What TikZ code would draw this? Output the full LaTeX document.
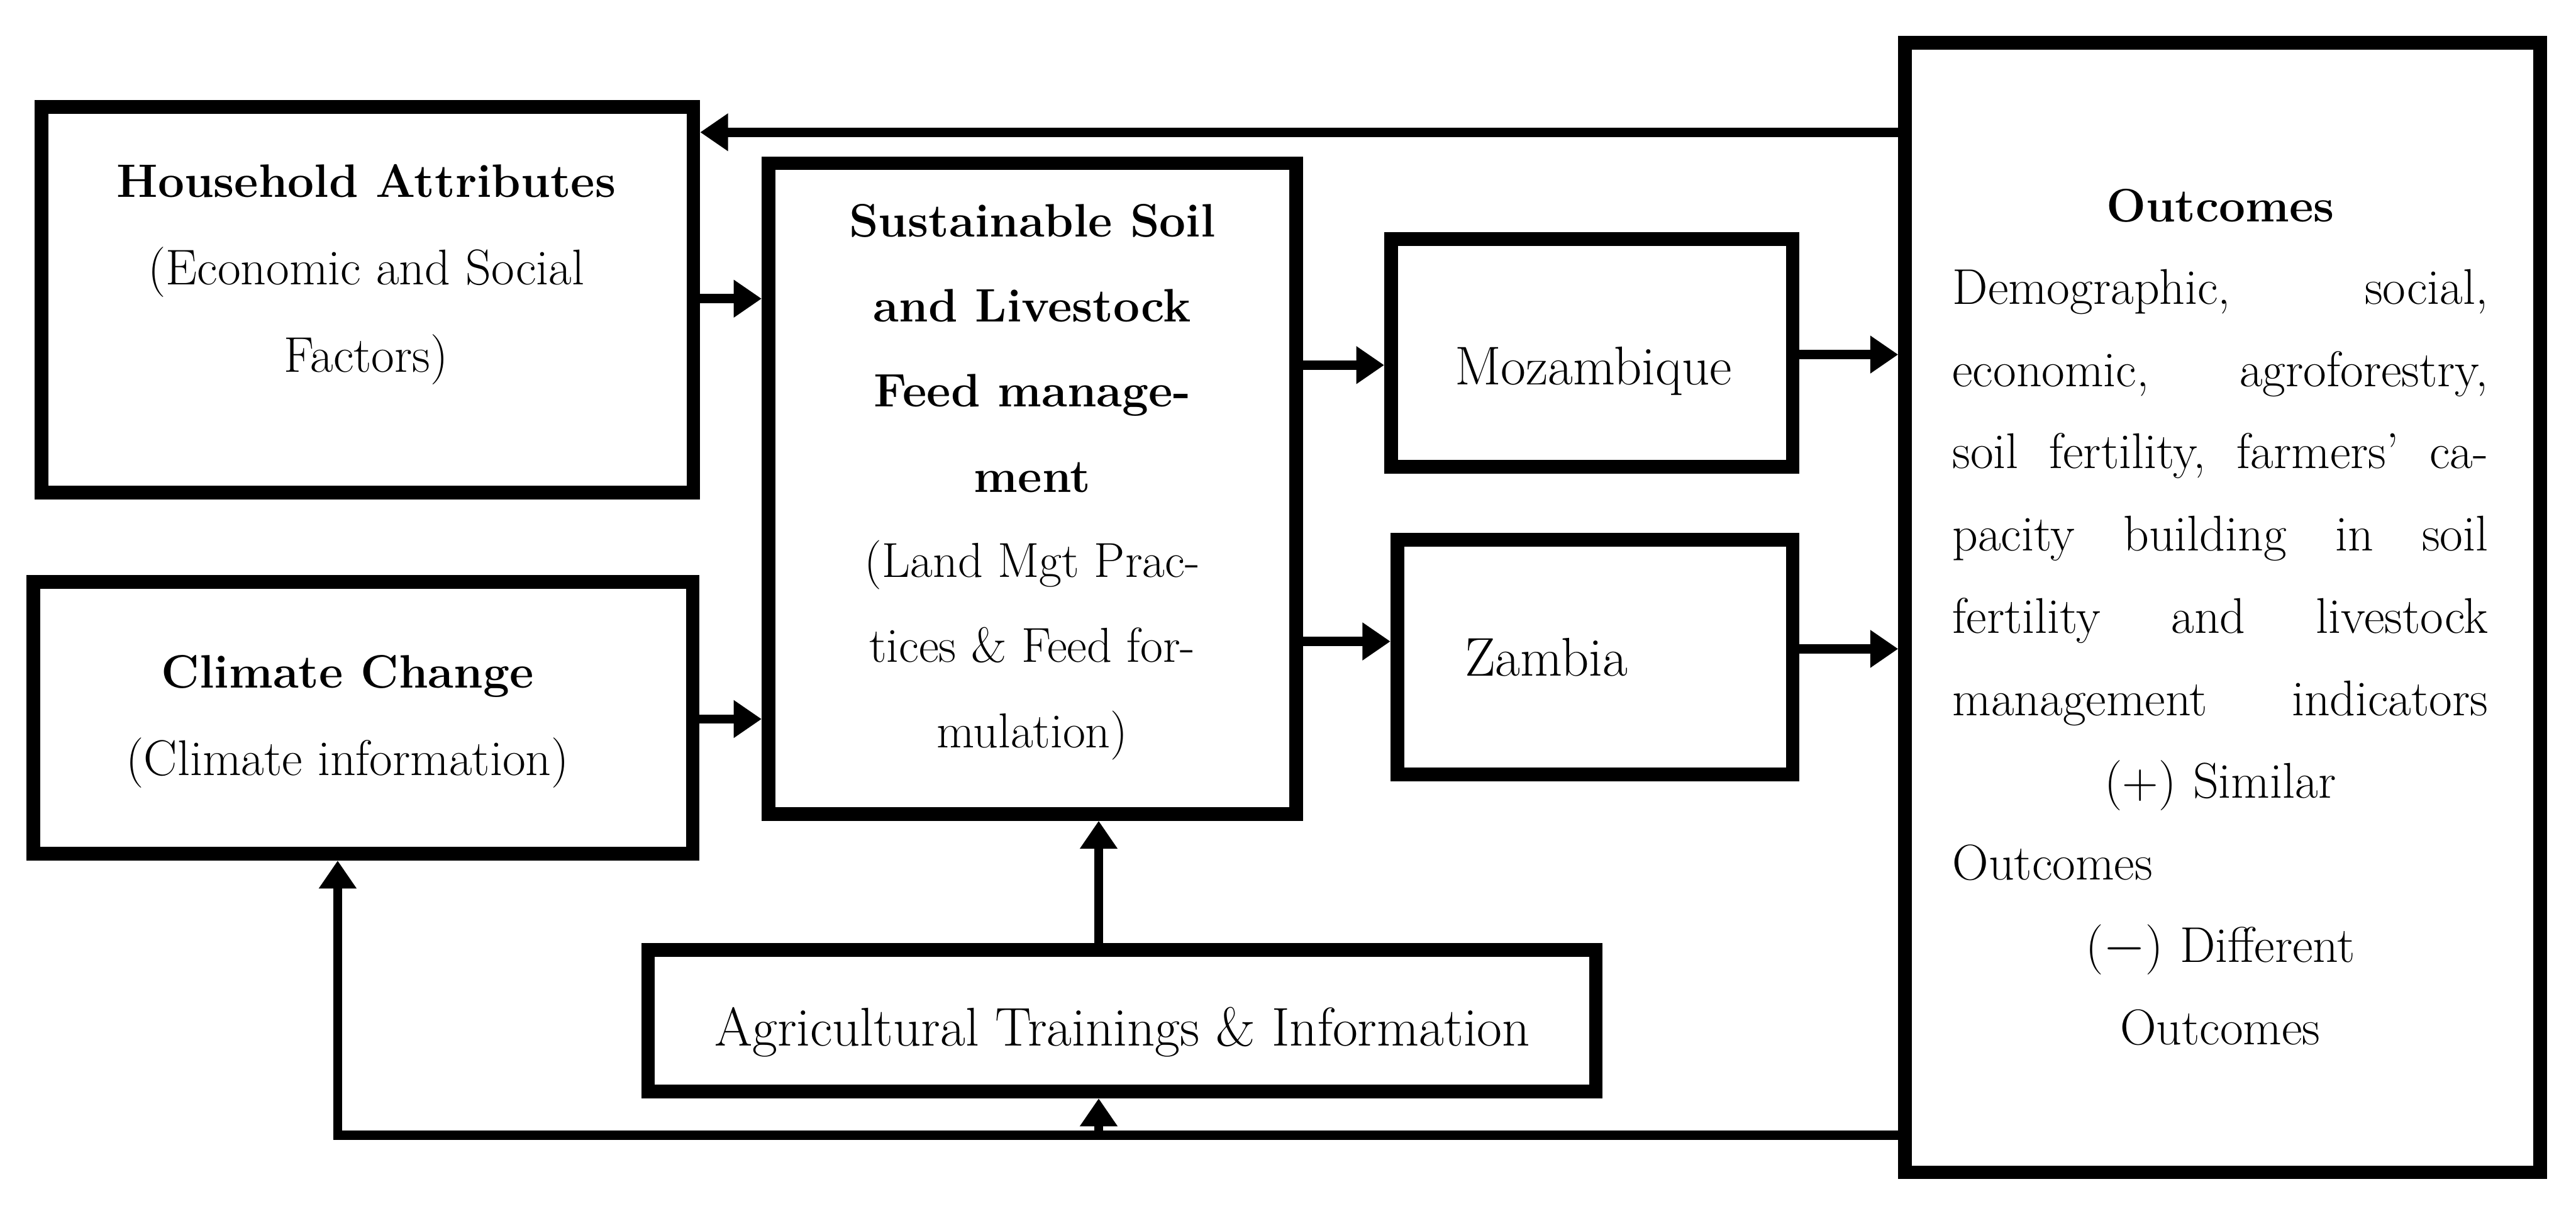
\documentclass[tikz,border=0pt]{standalone}
\usepackage{fontspec}
\usetikzlibrary{arrows.meta}
\newcommand\mybf[1]{{\fontsize{21.5}{40}\selectfont\bfseries #1}}
\newcommand\fullline[1]{\makebox[\linewidth][l]{#1}}
\begin{document}
\begin{tikzpicture}[
  box/.style={draw, line width=0.22cm, inner sep=0pt},
  conn/.style={line width=0.15cm},
  arr/.style={conn, -{Triangle[length=0.45cm,width=0.58cm]}},
  txt/.style={align=center, font=\fontsize{23}{40}\selectfont, inner sep=0pt},
  big/.style={txt, font=\fontsize{25}{40}\selectfont}
]
\useasboundingbox (0,0) rectangle (41.5,-19.42);
% boxes
\node[box, minimum width=10.50cm, minimum height=6.21cm] (hh) at (5.92,-4.825) {};
\node[box, minimum width=10.62cm, minimum height=4.38cm] (cc) at (5.85,-11.56) {};
\node[box, minimum width=8.50cm, minimum height=10.48cm] (su) at (16.63,-7.87) {};
\node[box, minimum width=6.47cm, minimum height=3.67cm] (mz) at (25.645,-5.685) {};
\node[box, minimum width=6.37cm, minimum height=3.78cm] (za) at (25.695,-10.58) {};
\node[box, minimum width=15.27cm, minimum height=2.28cm] (ag) at (18.075,-16.44) {};
\node[box, minimum width=10.23cm, minimum height=18.19cm] (ou) at (35.805,-9.785) {};
% texts
\node[txt] (hhT) at (5.90,-4.42) {\mybf{Household Attributes}\\(Economic and Social\\Factors)};
\node[txt] (ccT) at (5.60,-11.62) {\mybf{Climate Change}\\(Climate information)};
\node[txt, font=\fontsize{22.5}{39}\selectfont] (suT) at (16.63,-7.76) {\mybf{Sustainable Soil}\\\mybf{and Livestock}\\\mybf{Feed manage-}\\\mybf{ment}\\(Land Mgt Prac-\\tices \& Feed for-\\mulation)};
\node[big] (mzT) at (25.67,-5.98) {Mozambique};
\node[big] (zaT) at (24.91,-10.59) {Zambia};
\node[big] (agT) at (18.08,-16.62) {Agricultural Trainings \& Information};
\node[txt, text width=8.63cm, align=left, font=\fontsize{23}{37.7}\selectfont] (ouT) at (35.77,-9.94) {%
\makebox[\linewidth][c]{\mybf{Outcomes}}\\
\fullline{Demographic,\hfill social,}\\
\fullline{economic,\hfill agroforestry,}\\
\fullline{soil\hfill fertility,\hfill farmers’\hfill ca-}\\
\fullline{pacity\hfill building\hfill in\hfill soil}\\
\fullline{fertility\hfill and\hfill livestock}\\
\fullline{management\hfill indicators}\\
\makebox[\linewidth][c]{(+) Similar}\\
Outcomes\\
\makebox[\linewidth][c]{($-$) Different}\\
\makebox[\linewidth][c]{Outcomes}};
% connectors
\coordinate (yA) at (0,-2.13);
\coordinate (yB) at (0,-4.81);
\coordinate (yC) at (0,-11.58);
\coordinate (yD) at (0,-5.88);
\coordinate (yE) at (0,-10.33);
\coordinate (yF) at (0,-5.71);
\coordinate (yG) at (0,-10.45);
\coordinate (fb) at (5.44,-18.28);
\coordinate (ax) at (17.70,-18.28);
\draw[arr] (ou.west |- yA) -- (hh.east |- yA);
\draw[arr] (hh.east |- yB) -- (su.west |- yB);
\draw[arr] (cc.east |- yC) -- (su.west |- yC);
\draw[arr] (su.east |- yD) -- (mz.west |- yD);
\draw[arr] (su.east |- yE) -- (za.west |- yE);
\draw[arr] (mz.east |- yF) -- (ou.west |- yF);
\draw[arr] (za.east |- yG) -- (ou.west |- yG);
\draw[arr] (ou.west |- fb) -- (fb) -- (fb |- cc.south);
\draw[arr] (ax) -- (ax |- ag.south);
\draw[arr] (ax |- ag.north) -- (ax |- su.south);
\end{tikzpicture}
\end{document}
